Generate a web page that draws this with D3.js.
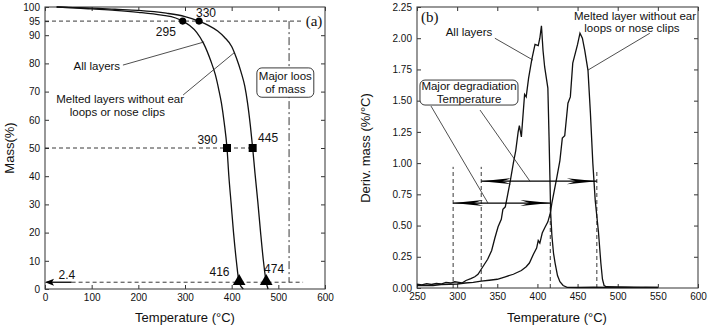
<!DOCTYPE html>
<html>
<head>
<meta charset="utf-8">
<script src="https://cdn.jsdelivr.net/npm/d3@7"></script>
<style>
  body { margin: 0; background: #fff; }
  svg text { font-family: "Liberation Sans", Arial, sans-serif; fill: #111; }
</style>
</head>
<body>
<svg width="709" height="328"></svg>
<script>
// (a) TG curves: temperature (°C) vs mass (%)
const tgAllTemp = [25, 60, 100, 150, 200, 250, 280, 295, 310, 325, 340, 355, 365, 372, 378, 384, 390, 394, 399, 404, 410, 416, 425];
const tgAllMass = [100, 99.7, 99.3, 98.8, 98.1, 97.1, 96.1, 95, 93.4, 91, 87, 81, 76, 71, 66, 59, 50, 40, 30, 20, 10, 2.4, 0];
const tgMeltTemp = [25, 60, 100, 150, 200, 260, 300, 330, 350, 370, 385, 400, 410, 420, 428, 434, 440, 445, 450, 456, 462, 468, 474, 478];
const tgMeltMass = [100, 99.8, 99.6, 99.2, 98.8, 97.8, 96.6, 95, 93.5, 91.5, 89.2, 86, 82, 77, 72, 66, 58, 50, 41, 31, 20, 10, 2.4, 0];

// key points marked on the TG curves
const tgMarkTemp = [295, 330, 390, 445, 416, 474];
const tgMarkMass = [95, 95, 50, 50, 2.4, 2.4];
const tgMarkShape = ["circle", "circle", "square", "square", "triangle", "triangle"];

// (b) DTG curves: temperature (°C) vs deriv. mass (%/°C)
const dtgAllTemp = [250, 256, 262, 268, 274, 280, 286, 292, 297, 302, 306, 311, 317, 322, 326, 330, 334, 338, 343, 347, 351, 355, 357, 360, 363, 366, 370, 373, 376, 377.5, 380, 384, 386, 389, 393, 397, 401, 403, 405, 407, 409, 413, 414.5, 415.5, 416.5, 418, 420, 422, 425, 428, 432, 437, 450, 470, 490, 510, 530, 550];
const dtgAllVal = [0.03, 0.025, 0.035, 0.028, 0.036, 0.032, 0.045, 0.04, 0.05, 0.045, 0.04, 0.06, 0.075, 0.09, 0.11, 0.15, 0.19, 0.23, 0.3, 0.4, 0.49, 0.55, 0.63, 0.65, 0.75, 0.85, 1.0, 1.1, 1.25, 1.3, 1.21, 1.55, 1.53, 1.68, 1.83, 1.95, 1.94, 2.0, 2.1, 1.9, 1.77, 1.6, 1.2, 0.9, 0.6, 0.42, 0.28, 0.2, 0.1, 0.05, 0.02, 0.005, 0.004, 0.006, 0.004, 0.005, 0.003, 0.004];
const dtgMeltTemp = [250, 260, 270, 280, 290, 300, 310, 320, 330, 340, 350, 360, 370, 380, 386, 390, 395, 399, 401, 403, 406, 409, 413, 416, 418, 421, 424, 428, 431, 434, 438, 441, 444, 448, 450, 453, 456, 459, 463, 466, 469, 472, 476, 479, 481, 483, 486, 500, 520, 535, 550];
const dtgMeltVal = [0.02, 0.022, 0.02, 0.028, 0.03, 0.032, 0.04, 0.045, 0.055, 0.062, 0.07, 0.09, 0.11, 0.14, 0.17, 0.2, 0.27, 0.32, 0.38, 0.36, 0.44, 0.48, 0.53, 0.6, 0.68, 0.78, 0.88, 1.02, 1.2, 1.22, 1.48, 1.53, 1.8, 1.9, 1.95, 2.04, 2.0, 1.9, 1.74, 1.4, 1.0, 0.7, 0.45, 0.2, 0.07, 0.02, 0.01, 0.008, 0.006, 0.007, 0.005];

// tick values
const xTicksA = [0, 100, 200, 300, 400, 500, 600];
const yTicksA = [0, 10, 20, 30, 40, 50, 60, 70, 80, 90, 95, 100];
const yRightA = [10, 20, 30, 40, 50, 60, 70, 80, 90];
const xTicksB = [250, 300, 350, 400, 450, 500, 550, 600];
const yTicksB = [0, 0.25, 0.5, 0.75, 1, 1.25, 1.5, 1.75, 2, 2.25];

// degradation temperatures used for guides in (b)
const degTemps = [295, 330, 416, 474];
const degTops = [0.97, 0.97, 0.65, 0.95];

const svg = d3.select("svg");

const xA = d3.scaleLinear().domain([0, 600]).range([45, 325]);
const yA = d3.scaleLinear().domain([0, 100]).range([289, 7]);
const xB = d3.scaleLinear().domain([250, 600]).range([417, 698]);
const yB = d3.scaleLinear().domain([0, 2.25]).range([288, 7]);

// frame with inward ticks on all four sides
function frame(x, y, xt, yt, yr, yfmt) {
  const g = svg.append("g").attr("font-size", 12);
  const [x0, x1] = x.range();
  const [y0, y1] = y.range();
  g.append("g").attr("transform", `translate(0,${y0})`)
    .call(d3.axisBottom(x).tickValues(xt).tickSize(-4).tickPadding(5));
  g.append("g").attr("transform", `translate(0,${y1})`)
    .call(d3.axisTop(x).tickValues(xt).tickSize(-4).tickFormat(""));
  g.append("g").attr("transform", `translate(${x0},0)`)
    .call(d3.axisLeft(y).tickValues(yt).tickSize(-4).tickPadding(5).tickFormat(yfmt));
  g.append("g").attr("transform", `translate(${x1},0)`)
    .call(d3.axisRight(y).tickValues(yr).tickSize(-4).tickFormat(""));
  g.selectAll(".domain").remove();
  g.selectAll("text").attr("font-family", null).attr("font-size", null);
  g.selectAll(".tick line").attr("stroke", "#333");
  g.append("rect").attr("x", x0).attr("y", y1).attr("width", x1 - x0).attr("height", y0 - y1)
    .attr("fill", "none").attr("stroke", "#444").attr("stroke-width", 1.1);
}

frame(xA, yA, xTicksA, yTicksA, yRightA, d3.format("d"));
frame(xB, yB, xTicksB, yTicksB, yTicksB.slice(1, -1), d3.format(".2f"));

// axis titles
svg.append("text").attr("x", 185).attr("y", 322).attr("text-anchor", "middle").attr("font-size", 13).text("Temperature (°C)");
svg.append("text").attr("x", 557).attr("y", 322).attr("text-anchor", "middle").attr("font-size", 13).text("Temperature (°C)");
svg.append("text").attr("transform", "translate(14,148) rotate(-90)").attr("text-anchor", "middle").attr("font-size", 13).text("Mass(%)");
svg.append("text").attr("transform", "translate(370,148) rotate(-90)").attr("text-anchor", "middle").attr("font-size", 13).text("Deriv. mass (%/°C)");

const dash = (g, pts, x, y, da) => g.append("path")
  .attr("d", d3.line().x(d => x(d[0])).y(d => y(d[1]))(pts))
  .attr("fill", "none").attr("stroke", "#222").attr("stroke-width", 0.9).attr("stroke-dasharray", da || "4,3");

////////////// panel (a)
const gA = svg.append("g");
dash(gA, [[0, 95], [550, 95]], xA, yA);
dash(gA, [[0, 50], [445, 50]], xA, yA);
dash(gA, [[57, 2.4], [553, 2.4]], xA, yA);
dash(gA, [[523, 95], [523, 2.4]], xA, yA, "8,3,2,3");

const lineA = d3.line().x(d => xA(d[0])).y(d => yA(d[1])).curve(d3.curveMonotoneX);
[[tgAllTemp, tgAllMass], [tgMeltTemp, tgMeltMass]].forEach(([t, m]) => {
  gA.append("path").datum(t.map((v, i) => [v, m[i]]))
    .attr("d", lineA).attr("fill", "none").attr("stroke", "#111").attr("stroke-width", 1.3);
});

const sym = { circle: d3.symbolCircle, square: d3.symbolSquare, triangle: d3.symbolTriangle };
const symSize = { circle: 40, square: 64, triangle: 70 };
gA.selectAll(".mark").data(tgMarkTemp.map((t, i) => ({ t, m: tgMarkMass[i], s: tgMarkShape[i] })))
  .enter().append("path").classed("mark", true)
  .attr("transform", d => `translate(${xA(d.t)},${yA(d.m) - (d.s === "triangle" ? 1 : 0)})`)
  .attr("d", d => d3.symbol(sym[d.s], symSize[d.s])())
  .attr("fill", "#000");

// arrow to 2.4 on the mass axis
gA.append("line").attr("x1", xA(57)).attr("x2", xA(3)).attr("y1", yA(2.4)).attr("y2", yA(2.4))
  .attr("stroke", "#000").attr("stroke-width", 1.3);
gA.append("path").attr("d", `M${xA(0)},${yA(2.4)}l9,-3.5l-2,3.5l2,3.5z`).attr("fill", "#000");

const labA = [["330", 345, 97.8], ["295", 259, 91.2], ["390", 348, 53], ["445", 478, 53.5], ["416", 374, 6], ["474", 491, 7.3], ["2.4", 47, 5]];
gA.selectAll(".num").data(labA).enter().append("text")
  .attr("x", d => xA(d[1])).attr("y", d => yA(d[2])).attr("text-anchor", "middle")
  .attr("dy", "0.35em").attr("font-size", 12).text(d => d[0]);

gA.append("text").attr("x", 314).attr("y", 21).attr("dy", "0.35em").attr("text-anchor", "middle")
  .attr("font-family", "Liberation Serif, Times New Roman, serif").style("font-family", "'Liberation Serif', serif")
  .attr("font-size", 15).text("(a)");

gA.append("text").attr("x", xA(111)).attr("y", yA(79)).attr("dy", "0.35em").attr("text-anchor", "middle").attr("font-size", 11.5).text("All layers");
gA.append("line").attr("x1", xA(167)).attr("y1", yA(79.4)).attr("x2", xA(341)).attr("y2", yA(87.6)).attr("stroke", "#222").attr("stroke-width", 0.8);
gA.append("text").attr("x", xA(161)).attr("y", yA(67.4)).attr("dy", "0.35em").attr("text-anchor", "middle").attr("font-size", 11.5).text("Melted layers without ear");
gA.append("text").attr("x", xA(155)).attr("y", yA(62.8)).attr("dy", "0.35em").attr("text-anchor", "middle").attr("font-size", 11.5).text("loops or nose clips");
gA.append("line").attr("x1", xA(296)).attr("y1", yA(68.8)).attr("x2", xA(407)).attr("y2", yA(84)).attr("stroke", "#222").attr("stroke-width", 0.8);

gA.append("rect").attr("x", xA(454)).attr("y", yA(78.4)).attr("width", xA(576) - xA(454)).attr("height", yA(68) - yA(78.4))
  .attr("rx", 5).attr("fill", "#fff").attr("stroke", "#222").attr("stroke-width", 0.9);
gA.append("text").attr("x", xA(515)).attr("y", yA(75.5)).attr("dy", "0.35em").attr("text-anchor", "middle").attr("font-size", 11.5).text("Major loos");
gA.append("text").attr("x", xA(515)).attr("y", yA(70.9)).attr("dy", "0.35em").attr("text-anchor", "middle").attr("font-size", 11.5).text("of mass");

////////////// panel (b)
const gB = svg.append("g");
degTemps.forEach((t, i) => dash(gB, [[t, 0], [t, degTops[i]]], xB, yB));

const lineB = d3.line().x(d => xB(d[0])).y(d => yB(d[1]));
[[dtgAllTemp, dtgAllVal], [dtgMeltTemp, dtgMeltVal]].forEach(([t, v]) => {
  gB.append("path").datum(t.map((d, i) => [d, v[i]]))
    .attr("d", lineB).attr("fill", "none").attr("stroke", "#111").attr("stroke-width", 1.3);
});

// double arrows spanning the degradation ranges
function dart(x, y, dir) {
  const L = 30, w = 3, n = 9;
  return `M${x},${y}L${x - dir * L},${y - w}L${x - dir * (L - n)},${y}L${x - dir * L},${y + w}Z`;
}
[[295, 416, 0.68], [330, 474, 0.855]].forEach(([a, b, v]) => {
  gB.append("line").attr("x1", xB(a)).attr("x2", xB(b)).attr("y1", yB(v)).attr("y2", yB(v))
    .attr("stroke", "#000").attr("stroke-width", 1.3);
  gB.append("path").attr("d", dart(xB(a), yB(v), -1)).attr("fill", "#000");
  gB.append("path").attr("d", dart(xB(b), yB(v), 1)).attr("fill", "#000");
});

gB.append("text").attr("x", 421).attr("y", 17).attr("dy", "0.35em")
  .style("font-family", "'Liberation Serif', serif").attr("font-size", 15).text("(b)");

gB.append("text").attr("x", xB(314.8)).attr("y", yB(2.05)).attr("dy", "0.35em").attr("text-anchor", "middle").attr("font-size", 11.5).text("All layers");
gB.append("line").attr("x1", xB(347)).attr("y1", yB(2.0)).attr("x2", xB(394.5)).attr("y2", yB(1.825)).attr("stroke", "#222").attr("stroke-width", 0.8);
gB.append("text").attr("x", xB(521.5)).attr("y", yB(2.18)).attr("dy", "0.35em").attr("text-anchor", "middle").attr("font-size", 11.5).text("Melted layer without ear");
gB.append("text").attr("x", xB(517.7)).attr("y", yB(2.08)).attr("dy", "0.35em").attr("text-anchor", "middle").attr("font-size", 11.5).text("loops or nose clips");
gB.append("line").attr("x1", xB(540)).attr("y1", yB(2.04)).attr("x2", xB(463)).attr("y2", yB(1.745)).attr("stroke", "#222").attr("stroke-width", 0.8);

gB.append("line").attr("x1", xB(267.4)).attr("y1", yB(1.457)).attr("x2", xB(338.4)).attr("y2", yB(0.68)).attr("stroke", "#222").attr("stroke-width", 0.8);
gB.append("line").attr("x1", xB(328.5)).attr("y1", yB(1.425)).attr("x2", xB(390.7)).attr("y2", yB(0.855)).attr("stroke", "#222").attr("stroke-width", 0.8);
gB.append("rect").attr("x", xB(253.7)).attr("y", yB(1.665)).attr("width", xB(375.8) - xB(253.7)).attr("height", yB(1.465) - yB(1.665))
  .attr("rx", 5).attr("fill", "#fff").attr("stroke", "#222").attr("stroke-width", 0.9);
gB.append("text").attr("x", xB(314.8)).attr("y", yB(1.617)).attr("dy", "0.35em").attr("text-anchor", "middle").attr("font-size", 11.5).text("Major degradiation");
gB.append("text").attr("x", xB(314.8)).attr("y", yB(1.513)).attr("dy", "0.35em").attr("text-anchor", "middle").attr("font-size", 11.5).text("Temperature");
</script>
</body>
</html>
